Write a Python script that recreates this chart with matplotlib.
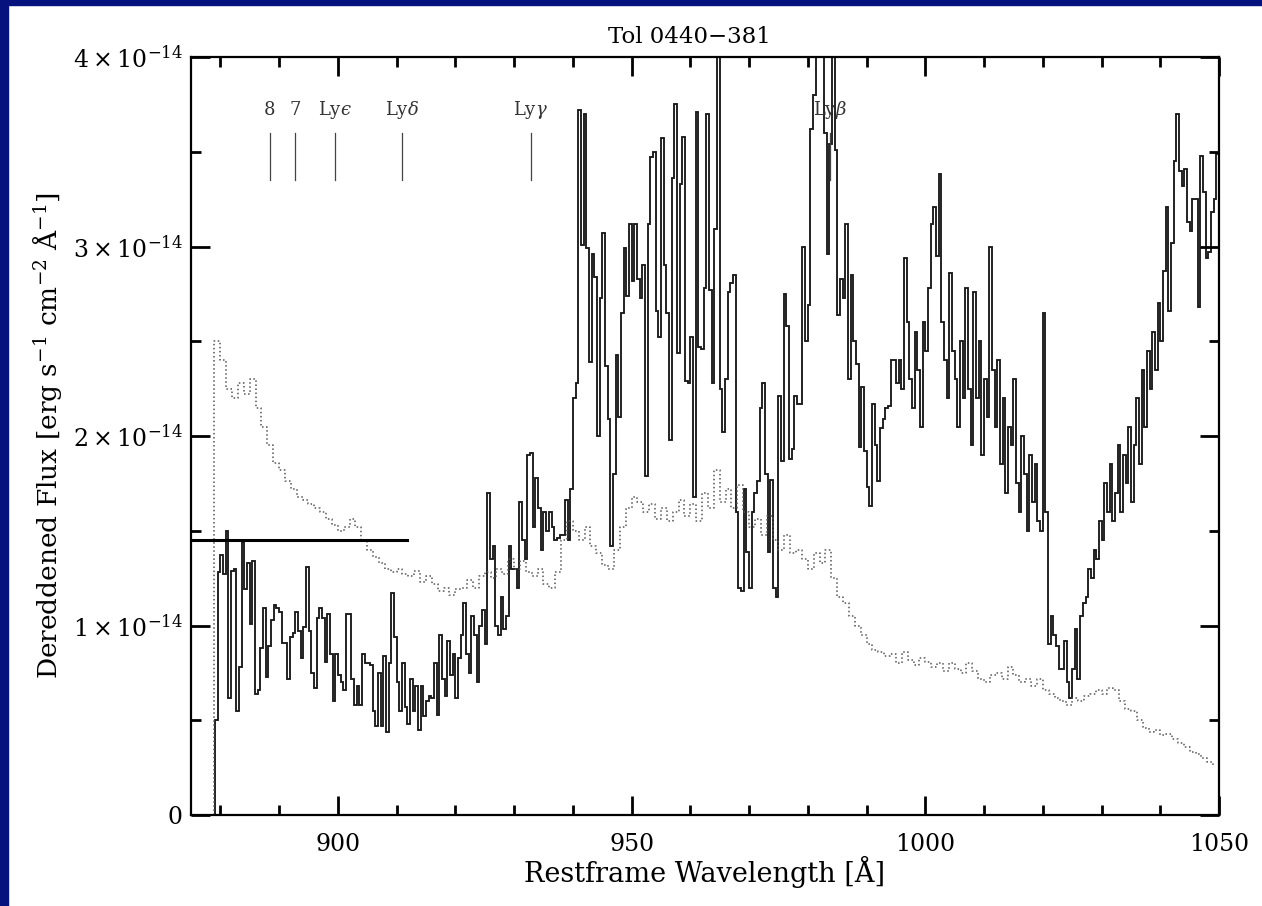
import numpy as np
import matplotlib
matplotlib.use("Agg")
import matplotlib.pyplot as plt
from matplotlib.patches import Rectangle

plt.rcParams['font.family'] = 'DejaVu Serif'
plt.rcParams['mathtext.fontset'] = 'dejavuserif'

# dereddened flux in units of 1e-14, equal bins from 879.1 to 1050 A
wave_start = 879.1
wave_end = 1050.0
flux = [
    # 879 - 925
    0.50, 1.28, 1.37, 1.27, 1.50, 0.62, 1.29, 1.30, 0.55, 0.78,
    1.44, 1.19, 1.33, 1.01, 1.34, 0.64, 0.66, 0.88, 1.09, 0.73,
    0.89, 1.03, 1.11, 1.09, 1.07, 0.91, 0.91, 0.72, 0.94, 0.96,
    1.07, 0.97, 0.83, 0.99, 1.31, 0.97, 0.75, 0.67, 1.04, 1.09,
    1.04, 0.81, 1.06, 0.85, 0.60, 0.85, 0.74, 0.70, 0.66, 1.06,
    1.06, 0.72, 0.58, 0.68, 0.58, 0.85, 0.80, 0.80, 0.79, 0.55,
    0.47, 0.75, 0.47, 0.84, 0.44, 0.80, 1.17, 0.94, 0.70, 0.55,
    0.80, 0.57, 0.48, 0.72, 0.55, 0.68, 0.45, 0.68, 0.52, 0.60,
    0.63, 0.62, 0.80, 0.53, 0.95, 0.72, 0.63, 0.92, 0.74, 0.85,
    0.62, 0.83, 0.95, 1.12, 0.85, 0.75, 1.05, 0.95, 0.70, 1.00,
    1.08, 0.90,
    # 925 - 995
    1.70, 1.35, 1.42, 1.00, 0.95, 1.15, 0.98, 1.05, 1.42, 1.30,
    1.30, 1.20, 1.65, 1.45, 1.35, 1.90, 1.91, 1.52, 1.78, 1.62,
    1.40, 1.60, 1.50, 1.60, 1.52, 1.45, 1.46, 1.48, 1.48, 1.66,
    1.45, 1.72, 2.20, 2.28, 3.72, 3.01, 3.70, 2.99, 2.39, 2.96,
    2.84, 2.00, 2.73, 3.07, 2.37, 2.09, 1.42, 1.80, 2.43, 2.10,
    2.65, 2.99, 2.74, 3.12, 2.82, 3.12, 2.83, 2.73, 2.90, 1.79,
    3.12, 3.47, 3.50, 2.66, 2.52, 3.57, 2.90, 2.65, 1.98, 3.36,
    3.75, 2.44, 3.33, 3.58, 2.29, 2.28, 2.52, 1.68, 3.71, 2.47,
    2.46, 2.78, 3.70, 2.77, 2.28, 3.09, 4.30, 2.25, 2.02, 2.30,
    2.76, 2.81, 2.85, 1.60, 1.20, 1.18, 1.72, 1.39, 1.20, 1.60,
    1.70, 1.76, 2.15, 2.28, 1.80, 1.39, 1.77, 1.20, 1.15, 2.21,
    1.87, 2.75, 2.58, 1.88, 1.93, 2.21, 2.17, 2.17, 3.00, 2.50,
    2.69, 3.62, 3.80, 4.30, 4.30, 4.30, 3.60, 2.96, 3.54, 4.30,
    3.51, 2.64, 2.83, 2.73, 3.12, 2.30, 2.85, 2.50, 2.38, 1.94,
    2.26, 1.92, 1.73, 1.63, 2.17, 1.95, 1.76, 2.04, 2.09, 2.15,
    2.16, 2.40, 2.40, 2.28,
    # 995 - 1050
    2.40, 2.25, 2.94, 2.60, 2.30, 2.15, 2.55, 2.35, 2.05, 2.60,
    2.45, 2.78, 3.12, 3.21, 2.95, 3.38, 2.60, 2.40, 2.20, 2.86,
    2.45, 2.30, 2.05, 2.50, 2.20, 2.78, 2.25, 1.95, 2.76, 2.20,
    2.50, 1.90, 2.30, 2.10, 3.00, 2.35, 2.05, 2.40, 1.85, 2.20,
    1.70, 2.05, 1.95, 2.30, 1.75, 1.60, 2.00, 1.80, 1.50, 1.90,
    1.65, 1.85, 1.55, 1.50, 2.65, 1.60, 0.90, 1.05, 0.95, 0.89,
    0.77, 0.77, 0.92, 0.70, 0.62, 0.77, 0.98, 0.72, 1.05, 1.12,
    1.15, 1.30, 1.25, 1.40, 1.35, 1.55, 1.45, 1.75, 1.60, 1.85,
    1.55, 1.70, 1.95, 1.60, 1.90, 1.75, 2.05, 1.65, 1.95, 2.20,
    1.85, 2.35, 2.05, 2.45, 2.25, 2.55, 2.35, 2.70, 2.50, 2.87,
    3.21, 2.66, 3.02, 3.45, 3.70, 3.40, 3.32, 3.41, 3.13, 3.08,
    3.25, 3.25, 2.68, 3.48, 3.29, 2.94, 2.97, 3.18, 3.25, 3.49,
]

# error spectrum (dotted), 1 A steps
err_wave = [878.9] + list(range(879, 1050))
err_flux = [
    0.00,
    2.50, 2.40, 2.25, 2.20, 2.28, 2.22, 2.30, 2.15, 2.05, 1.95,
    1.86, 1.82, 1.76, 1.72, 1.68, 1.66, 1.64, 1.62, 1.60, 1.56,
    1.53, 1.50, 1.52, 1.56, 1.52, 1.45, 1.40, 1.36, 1.33, 1.30,
    1.28, 1.30, 1.27, 1.26, 1.29, 1.23, 1.26, 1.22, 1.18, 1.20,
    1.16, 1.19, 1.20, 1.24, 1.20, 1.26, 1.28, 1.25, 1.30, 1.27,
    1.35, 1.30, 1.34, 1.28, 1.26, 1.30, 1.22, 1.20, 1.28, 1.45,
    1.55, 1.50, 1.45, 1.52, 1.42, 1.38, 1.32, 1.30, 1.40, 1.52,
    1.62, 1.68, 1.65, 1.60, 1.64, 1.56, 1.62, 1.55, 1.60, 1.66,
    1.58, 1.64, 1.55, 1.70, 1.62, 1.82, 1.65, 1.72, 1.62, 1.74,
    1.60, 1.52, 1.56, 1.48, 1.58, 1.45, 1.40, 1.48, 1.38, 1.40,
    1.35, 1.30, 1.38, 1.33, 1.40, 1.25, 1.15, 1.12, 1.05, 1.00,
    0.95, 0.90, 0.87, 0.86, 0.84, 0.85, 0.80, 0.86, 0.82, 0.79,
    0.83, 0.81, 0.78, 0.80, 0.76, 0.80, 0.77, 0.75, 0.80, 0.76,
    0.72, 0.70, 0.74, 0.75, 0.72, 0.78, 0.74, 0.70, 0.72, 0.68,
    0.72, 0.66, 0.64, 0.62, 0.60, 0.58, 0.62, 0.60, 0.63, 0.64,
    0.66, 0.64, 0.67, 0.66, 0.60, 0.56, 0.55, 0.50, 0.46, 0.44,
    0.45, 0.42, 0.43, 0.40, 0.38, 0.36, 0.33, 0.32, 0.30, 0.28,
    0.26,
]

# continuum level below the Lyman limit
cont_level = 1.45
cont_wave = [875.0, 911.7]

# absorption line markers
line_waves = [888.4, 892.7, 899.5, 910.9, 932.8, 983.8]
line_labels = ['8', '7', 'Ly$\u03f5$', r'Ly$\delta$', r'Ly$\gamma$', r'Ly$\beta$']

fig = plt.figure(figsize=(12.62, 9.06), dpi=100)
fig.patch.set_facecolor('white')
# blue slide border
fig.patches.append(Rectangle((0, 1 - 5 / 906), 1, 5 / 906, transform=fig.transFigure,
                             color='#06127e', zorder=0))
fig.patches.append(Rectangle((0, 0), 8 / 1262, 1, transform=fig.transFigure,
                             color='#06127e', zorder=0))

ax = fig.add_axes([191 / 1262, 91 / 906, 1028 / 1262, 758 / 906])

edges = np.linspace(wave_start, wave_end, len(flux) + 1)
ax.stairs(flux, edges, color='#1a1a1a', lw=1.35, baseline=0)
ax.step(err_wave, err_flux, where='post', color='#555555', ls=':', lw=1.1)
ax.plot(cont_wave, [cont_level, cont_level], color='black', lw=2.2)

for w, lab in zip(line_waves, line_labels):
    ax.plot([w, w], [3.35, 3.6], color='#444444', lw=0.9)
    ax.text(w, 3.72, lab, ha='center', va='center', fontsize=13, color='#333333')

ax.set_xlim(875, 1050)
ax.set_ylim(0, 4)
ax.set_xticks([900, 950, 1000, 1050])
ax.set_xticks(np.arange(880, 1050, 10), minor=True)
ax.set_yticks([0, 1, 2, 3, 4])
ax.set_yticklabels(['0', r'$1\times10^{-14}$', r'$2\times10^{-14}$',
                    r'$3\times10^{-14}$', r'$4\times10^{-14}$'])
ax.set_yticks(np.arange(0.5, 4, 1.0), minor=True)

ax.tick_params(which='both', direction='in', top=True, right=True, width=2,
               labelsize=17)
ax.tick_params(which='major', length=14)
ax.tick_params(which='minor', length=7)
ax.tick_params(axis='x', pad=13)
ax.tick_params(axis='y', pad=6)
for s in ax.spines.values():
    s.set_linewidth(1.6)

ax.set_title('Tol 0440\u2212381', fontsize=16.5, x=0.485, pad=10)
ax.set_xlabel('Restframe Wavelength [\u00c5]', fontsize=19.5, labelpad=0)
ax.set_ylabel(r'Dereddened Flux [erg s$^{-1}$ cm$^{-2}$ $\mathrm{\AA}^{-1}$]',
              fontsize=19, labelpad=6)

fig.savefig('out.png', dpi=100)
